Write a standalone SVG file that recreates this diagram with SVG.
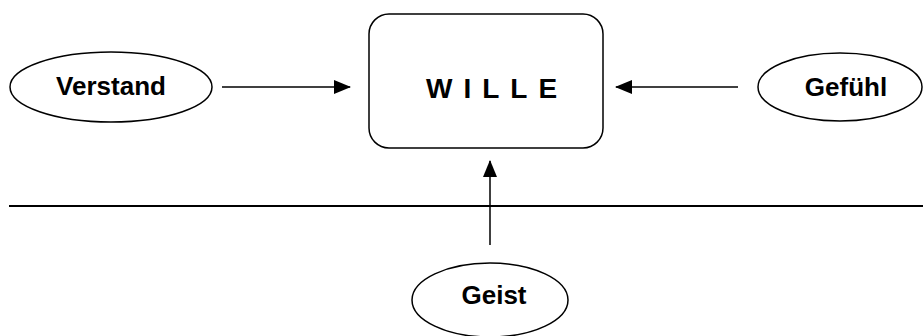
<svg xmlns="http://www.w3.org/2000/svg" width="923" height="336" viewBox="0 0 923 336">
<style>
.shape{fill:#fff;stroke:#000;stroke-width:1.5}
.lbl{font-family:"Liberation Sans",Arial,sans-serif;font-weight:bold;font-size:26px;fill:#000;text-anchor:middle}
.con{stroke:#000;stroke-width:1.5;fill:none}
</style>
<defs>
<marker id="ah" markerWidth="17" markerHeight="14" refX="16" refY="7" orient="auto" markerUnits="userSpaceOnUse">
<path d="M0,0 L17,7 L0,14 Z" fill="#000"/>
</marker>
</defs>
<line x1="9" y1="206" x2="923" y2="206" stroke="#000" stroke-width="2"/>
<g id="connectors">
<line class="con" x1="222" y1="87" x2="350" y2="87" marker-end="url(#ah)"/>
<line class="con" x1="738" y1="87" x2="616" y2="87" marker-end="url(#ah)"/>
<line class="con" x1="490" y1="245" x2="490" y2="161" marker-end="url(#ah)"/>
</g>
<g id="wille">
<rect class="shape" x="369" y="14" width="234" height="134" rx="20" ry="20"/>
<text x="426" y="98" style="font-family:'Liberation Sans',Arial,sans-serif;font-weight:bold;font-size:28px;letter-spacing:11px">WILLE</text>
</g>
<g id="verstand">
<ellipse class="shape" cx="111" cy="87" rx="101" ry="35"/>
<text class="lbl" x="111" y="95">Verstand</text>
</g>
<g id="gefuehl">
<ellipse class="shape" cx="840" cy="87" rx="82" ry="34"/>
<text class="lbl" x="846" y="96">Gefühl</text>
</g>
<g id="geist">
<ellipse class="shape" cx="490" cy="300" rx="78" ry="37"/>
<text class="lbl" x="494" y="304">Geist</text>
</g>
</svg>
